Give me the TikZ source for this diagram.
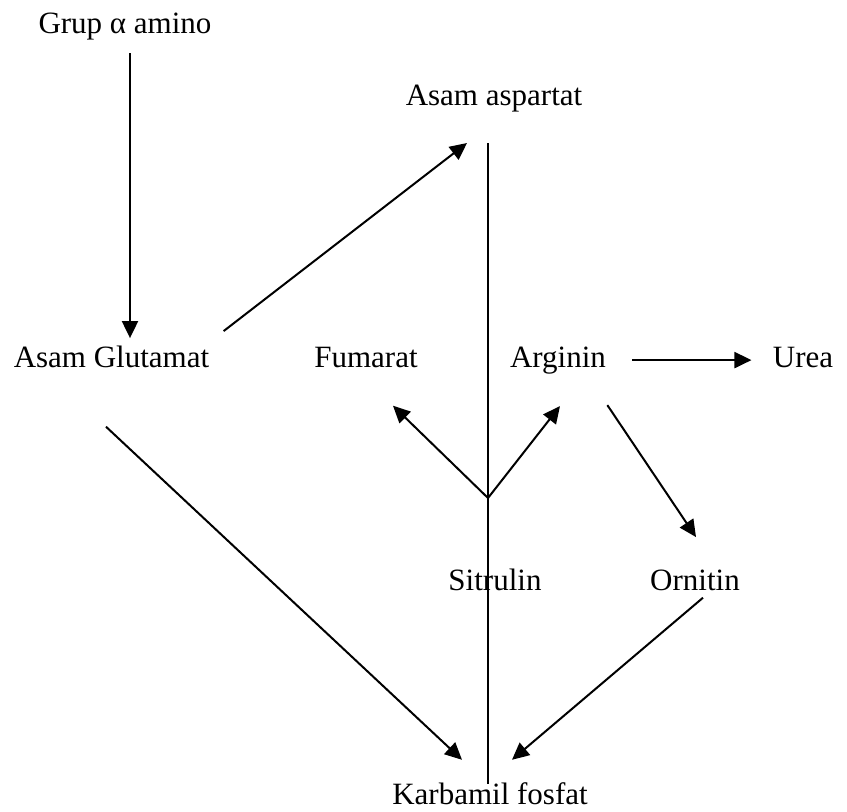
\documentclass[tikz,border=0pt]{standalone}
\usepackage{fontspec}
\setmainfont{Liberation Serif}
\usepackage{tikz}
\usetikzlibrary{arrows.meta}
\tikzstyle{lbl}=[inner sep=2pt, anchor=base, font=\fontsize{15.5}{18}\selectfont]
\tikzstyle{arr}=[line width=1pt, -{Triangle[length=8.5pt, width=8pt]}]
\tikzstyle{ln}=[line width=1pt]

\begin{document}
\begin{tikzpicture}[x=.5pt, y=-.5pt]
    \useasboundingbox (0,0) rectangle (847,811);

    \node[lbl] (grup) at (125,33) {Grup α amino};
    \node[lbl] (asp) at (494,105) {Asam aspartat};
    \node[lbl] (glu) at (111.5,367) {Asam Glutamat};
    \node[lbl] (fum) at (366,367) {Fumarat};
    \node[lbl] (arg) at (558,367) {Arginin};
    \node[lbl] (urea) at (803,367) {Urea};
    \node[lbl] (sit) at (495,590) {Sitrulin};
    \node[lbl] (orn) at (695,590) {Ornitin};
    \node[lbl] (karb) at (490,804) {Karbamil fosfat};
    \coordinate (junc) at (488,498);

    % main column
    \draw[ln, shorten <=13.5pt, shorten >=-3pt] (asp.south -| junc) -- (karb.north -| junc);
    \draw[arr, shorten <=4.5pt, shorten >=1.5pt] ([xshift=2.5pt]grup.south) -- ([xshift=2.5pt]grup.south |- glu.north);
    \draw[arr] ([xshift=5pt, yshift=5pt]glu.north east) -- ([xshift=-13.5pt, yshift=-13.5pt]asp.south);

    % from the junction
    \draw[arr] (junc) -- ([xshift=13.5pt, yshift=-17pt]fum.south);
    \draw[arr] (junc) -- ([xshift=1pt, yshift=-14pt]arg.south);

    \draw[arr, shorten <=11pt, shorten >=8.5pt] (arg.east) -- (arg.east -| urea.west);
    \draw[arr] ([xshift=-1.5pt, yshift=-13.5pt]arg.south east) -- ([xshift=.5pt, yshift=14pt]orn.north);

    % into Karbamil fosfat
    \draw[arr] ([xshift=-2.75pt, yshift=-27.5pt]glu.south) -- ([xshift=-14pt, yshift=9pt]karb.north);
    \draw[arr] ([xshift=4pt, yshift=-1.5pt]orn.south) -- ([xshift=11pt, yshift=9pt]karb.north);

  \end{tikzpicture}
\end{document}
